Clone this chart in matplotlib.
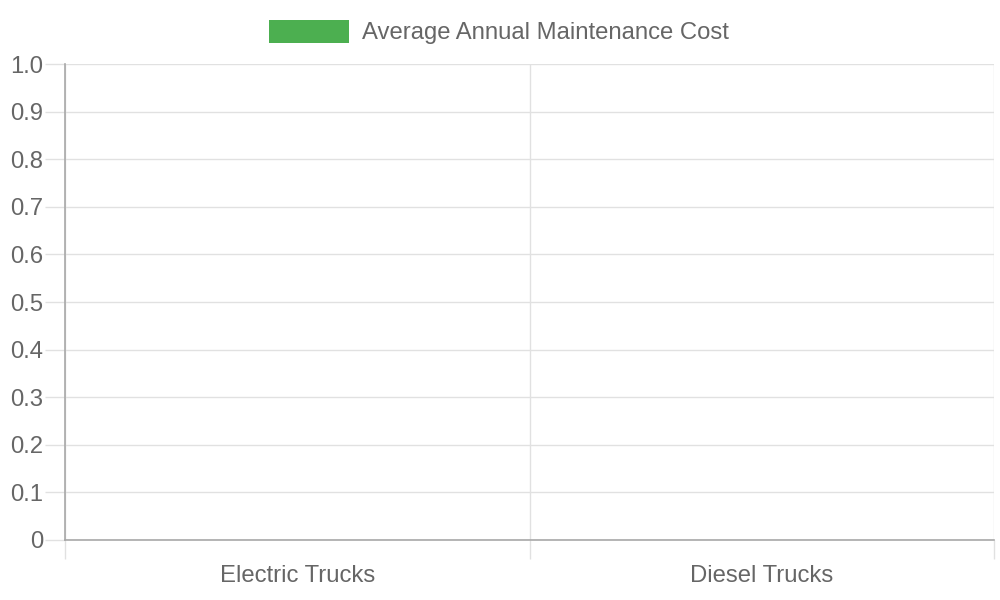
import matplotlib
matplotlib.use("Agg")
import matplotlib.pyplot as plt
from matplotlib.patches import Rectangle

plt.rcParams['font.family'] = ['Liberation Sans', 'DejaVu Sans']

categories = ["Electric Trucks", "Diesel Trucks"]
values = [0, 0]
series_label = "Average Annual Maintenance Cost"
y_ticks = [0, 0.1, 0.2, 0.3, 0.4, 0.5, 0.6, 0.7, 0.8, 0.9, 1.0]
y_tick_labels = ["0", "0.1", "0.2", "0.3", "0.4", "0.5", "0.6", "0.7", "0.8", "0.9", "1.0"]

green = "#4caf50"
text_col = "#666666"
grid_col = "#e1e1e1"
axis_col = "#a8a8a8"
fs = 17.2

fig = plt.figure(figsize=(10, 6), dpi=100)
ax = fig.add_axes([0.065, 0.1, 0.929, 0.7933])

x = list(range(len(categories)))
ax.bar(x, values, width=0.8, color=green)

ax.set_xlim(-0.5, len(categories) - 0.5)
ax.set_ylim(0, 1.0)

ax.set_yticks(y_ticks)
ax.set_yticklabels(y_tick_labels)
ax.set_xticks(x)
ax.set_xticklabels(categories)
ax.set_xticks([i - 0.5 for i in range(len(categories) + 1)], minor=True)

ax.tick_params(axis='y', which='major', length=14.4, width=1, color=grid_col,
               labelsize=fs, labelcolor=text_col, pad=1.5)
ax.tick_params(axis='x', which='major', length=0, labelsize=fs,
               labelcolor=text_col, pad=18)
ax.tick_params(axis='x', which='minor', length=14, width=1, color=grid_col)

ax.grid(True, axis='y', which='major', color=grid_col, linewidth=1)
ax.grid(True, axis='x', which='minor', color=grid_col, linewidth=1)
ax.grid(False, axis='x', which='major')
ax.set_axisbelow(True)

for s in ['top', 'right']:
    ax.spines[s].set_visible(False)
for s in ['left', 'bottom']:
    ax.spines[s].set_color(axis_col)
    ax.spines[s].set_linewidth(1.2)

# legend drawn in figure coordinates
fig.patches.append(Rectangle((269 / 1000, 1 - 43 / 600), 80 / 1000, 23 / 600,
                             transform=fig.transFigure, facecolor=green,
                             edgecolor='none'))
fig.text(362 / 1000, 1 - 33.5 / 600, series_label, fontsize=fs, color=text_col,
         ha='left', va='center')

fig.savefig("out.png", dpi=100)
